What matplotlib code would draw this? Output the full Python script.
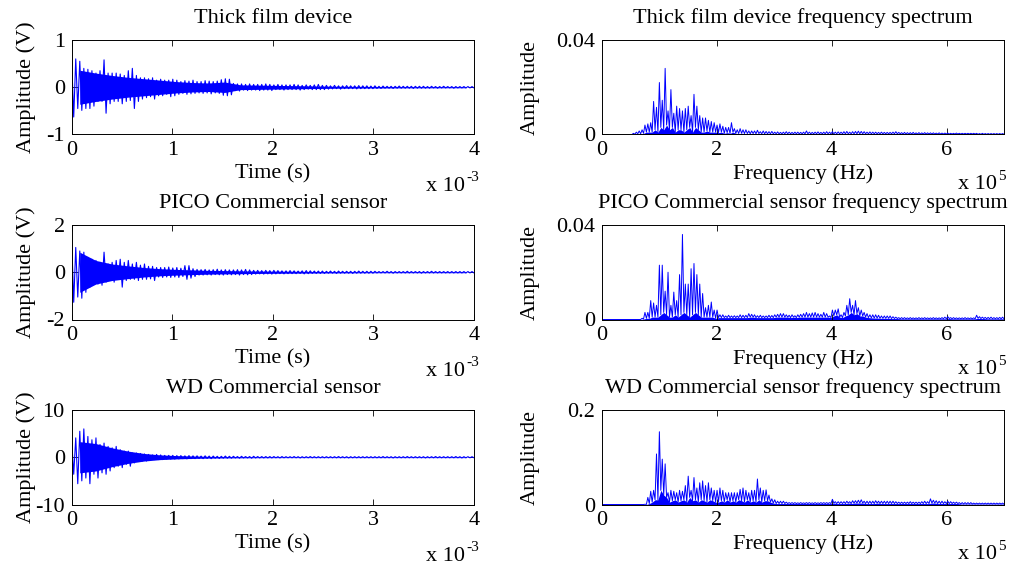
import numpy as np
import matplotlib
matplotlib.use("Agg")
import matplotlib.pyplot as plt

plt.rcParams['font.family'] = ['Liberation Serif', 'DejaVu Serif']

# ---------------- data ----------------
titles_time = ["Thick film device", "PICO Commercial sensor", "WD Commercial sensor"]
titles_freq = ["Thick film device frequency spectrum",
               "PICO Commercial sensor frequency spectrum",
               "WD Commercial sensor frequency spectrum"]

# time signals: positive / negative peak per 0.04 ms bin (0 .. 4 ms), volts
thick_up = [0.55, 0.60, 0.55, 0.40, 0.38, 0.35, 0.30, 0.35, 0.58, 0.30, 0.30, 0.30, 0.28, 0.25, 0.35, 0.40, 0.25, 0.20, 0.20, 0.18, 0.20, 0.15, 0.17, 0.15, 0.15,
            0.17, 0.15, 0.12, 0.14, 0.13, 0.15, 0.12, 0.12, 0.14, 0.13, 0.12, 0.13, 0.16, 0.18, 0.17,
            0.08, 0.07, 0.07, 0.06, 0.07, 0.06, 0.06, 0.06, 0.07, 0.06,
            0.05, 0.06, 0.05, 0.05, 0.05, 0.06, 0.05, 0.04, 0.05, 0.04, 0.05, 0.06, 0.04,
            0.04, 0.03, 0.04, 0.03, 0.03, 0.035, 0.03, 0.03, 0.035, 0.03, 0.03, 0.025,
            0.03, 0.02, 0.025, 0.02, 0.02, 0.02, 0.025, 0.02, 0.02, 0.02, 0.02, 0.02, 0.02, 0.015, 0.02, 0.015, 0.015, 0.02, 0.015, 0.015, 0.015, 0.015, 0.015, 0.015, 0.015]
thick_dn = [0.63, 0.45, 0.49, 0.45, 0.45, 0.40, 0.30, 0.30, 0.55, 0.35, 0.30, 0.30, 0.35, 0.30, 0.28, 0.45, 0.30, 0.25, 0.22, 0.20, 0.25, 0.18, 0.18, 0.15, 0.20,
            0.18, 0.15, 0.13, 0.15, 0.14, 0.13, 0.12, 0.13, 0.12, 0.14, 0.12, 0.13, 0.17, 0.18, 0.16,
            0.07, 0.08, 0.06, 0.07, 0.06, 0.06, 0.07, 0.06, 0.06, 0.07,
            0.05, 0.05, 0.06, 0.05, 0.05, 0.05, 0.06, 0.05, 0.04, 0.05, 0.05, 0.05, 0.05,
            0.04, 0.035, 0.03, 0.04, 0.03, 0.03, 0.03, 0.035, 0.03, 0.03, 0.03, 0.03,
            0.025, 0.025, 0.02, 0.02, 0.025, 0.02, 0.02, 0.02, 0.02, 0.025, 0.02, 0.02, 0.02, 0.02, 0.015, 0.02, 0.015, 0.015, 0.015, 0.02, 0.015, 0.015, 0.015, 0.015, 0.015]

pico_up = [1.34, 1.05, 0.90, 0.85, 0.63, 0.55, 0.50, 0.42, 0.85, 0.35, 0.42, 0.50, 0.55, 0.42, 0.50, 0.35, 0.42, 0.30, 0.35, 0.25, 0.25, 0.20, 0.20, 0.20, 0.22,
           0.18, 0.20, 0.17, 0.28, 0.28, 0.15, 0.12, 0.11, 0.12, 0.10, 0.11, 0.13, 0.10, 0.11, 0.10,
           0.10, 0.11, 0.10, 0.12, 0.10, 0.08, 0.08, 0.07, 0.08, 0.07,
           0.08, 0.07, 0.06, 0.06, 0.07, 0.06, 0.05, 0.06, 0.07, 0.06, 0.05, 0.05, 0.05,
           0.04, 0.05, 0.04, 0.05, 0.04, 0.04, 0.04, 0.04, 0.05, 0.04, 0.04, 0.04,
           0.04, 0.03, 0.03, 0.04, 0.03, 0.03, 0.03, 0.03, 0.04, 0.03, 0.03, 0.03, 0.03, 0.03, 0.04, 0.03, 0.03, 0.03, 0.03, 0.03, 0.03, 0.03, 0.03, 0.03, 0.03]
pico_dn = [1.27, 1.05, 1.10, 0.85, 0.63, 0.50, 0.50, 0.55, 0.42, 0.35, 0.42, 0.30, 0.63, 0.35, 0.30, 0.30, 0.35, 0.30, 0.30, 0.28, 0.35, 0.20, 0.22, 0.20, 0.22,
           0.20, 0.22, 0.18, 0.30, 0.25, 0.18, 0.12, 0.12, 0.11, 0.12, 0.10, 0.11, 0.12, 0.10, 0.11,
           0.10, 0.12, 0.10, 0.11, 0.10, 0.08, 0.07, 0.08, 0.07, 0.08,
           0.07, 0.06, 0.07, 0.06, 0.06, 0.06, 0.05, 0.07, 0.06, 0.05, 0.05, 0.05, 0.05,
           0.04, 0.04, 0.05, 0.04, 0.04, 0.04, 0.05, 0.04, 0.04, 0.04, 0.04, 0.04,
           0.03, 0.03, 0.03, 0.03, 0.04, 0.03, 0.03, 0.03, 0.03, 0.03, 0.03, 0.04, 0.03, 0.03, 0.03, 0.03, 0.03, 0.03, 0.03, 0.03, 0.03, 0.03, 0.03, 0.03, 0.03]

wd_up = [3.4, 4.1, 5.5, 6.0, 4.4, 3.7, 4.1, 2.7, 3.0, 2.3, 2.0, 2.3, 1.6, 1.3, 1.3, 0.9, 0.9, 0.8, 0.7, 0.6, 0.5, 0.6, 0.5, 0.4, 0.4,
         0.4, 0.35, 0.35, 0.3, 0.35, 0.3, 0.3, 0.25, 0.3, 0.25, 0.25, 0.2, 0.2, 0.25, 0.2,
         0.2, 0.15, 0.2, 0.15, 0.15, 0.2, 0.15, 0.15, 0.15, 0.15,
         0.15, 0.12, 0.15, 0.12, 0.12, 0.15, 0.12, 0.12, 0.12, 0.15, 0.12, 0.12, 0.12,
         0.12, 0.12, 0.12, 0.15, 0.12, 0.12, 0.12, 0.12, 0.12, 0.12, 0.12, 0.12,
         0.12, 0.12, 0.15, 0.12, 0.12, 0.12, 0.12, 0.12, 0.15, 0.12, 0.12, 0.12, 0.12, 0.12, 0.12, 0.15, 0.12, 0.12, 0.12, 0.12, 0.15, 0.12, 0.12, 0.12, 0.12]
wd_dn = [3.6, 5.6, 5.0, 4.4, 5.6, 3.6, 4.4, 3.3, 3.6, 2.9, 2.2, 1.9, 2.2, 1.5, 1.9, 1.2, 0.9, 0.8, 0.8, 0.6, 0.5, 0.5, 0.5, 0.4, 0.4,
         0.4, 0.35, 0.3, 0.35, 0.3, 0.3, 0.25, 0.3, 0.25, 0.3, 0.2, 0.25, 0.2, 0.2, 0.2,
         0.15, 0.2, 0.15, 0.15, 0.2, 0.15, 0.15, 0.15, 0.15, 0.15,
         0.12, 0.15, 0.12, 0.12, 0.12, 0.12, 0.15, 0.12, 0.12, 0.12, 0.12, 0.12, 0.12,
         0.12, 0.12, 0.12, 0.12, 0.12, 0.15, 0.12, 0.12, 0.12, 0.12, 0.12, 0.12,
         0.12, 0.12, 0.12, 0.12, 0.15, 0.12, 0.12, 0.12, 0.12, 0.12, 0.12, 0.12, 0.15, 0.12, 0.12, 0.12, 0.12, 0.12, 0.12, 0.12, 0.12, 0.15, 0.12, 0.12, 0.12]

# dense core of each time signal (half-width) per 0.16 ms bin, volts
thick_core = [0.36, 0.30, 0.25, 0.21, 0.18, 0.15, 0.12, 0.10, 0.09, 0.11, 0.05, 0.045, 0.04, 0.035, 0.03, 0.025,
              0.02, 0.018, 0.016, 0.015, 0.013, 0.012, 0.012, 0.011, 0.011]
pico_core = [0.85, 0.50, 0.35, 0.27, 0.20, 0.15, 0.12, 0.10, 0.08, 0.07, 0.06, 0.05, 0.045, 0.04, 0.035, 0.03,
             0.028, 0.025, 0.022, 0.02, 0.02, 0.02, 0.02, 0.02, 0.02]
wd_core = [3.3, 2.9, 2.0, 1.3, 0.8, 0.5, 0.35, 0.25, 0.18, 0.14, 0.12, 0.1, 0.09, 0.08, 0.08, 0.08,
           0.08, 0.08, 0.08, 0.08, 0.08, 0.08, 0.08, 0.08, 0.08]

# spectra: peak / trough per 0.05e5 Hz bin (0 .. 7e5 Hz), in units of 1e-3
thick_spec_pk = [0, 0, 0, 0, 0, 0, 0, 0, 0, 0, 0, 0.5, 1.0, 1.5, 2.0, 4.0, 4.5, 5.0, 14.0, 11.5,
                 22, 14.5, 28, 10, 19, 9, 12, 11, 10, 11, 12, 8, 17, 12, 8, 7, 7, 6, 5.5, 5,
                 4, 4.5, 3.5, 3, 3, 5, 2.5, 2, 2.5, 2, 2, 1.5, 1.5, 1.5, 1.8, 1.2, 1.5, 1.3, 1.2, 1.3,
                 1.0, 1.1, 0.9, 1.0, 1.2, 1.0, 0.9, 1.0, 1.0, 0.9, 1.0, 1.5, 1.0, 0.9, 1.0, 1.1, 0.9, 1.0, 1.2, 1.0,
                 1.2, 1.0, 1.1, 1.0, 1.2, 1.3, 1.0, 1.2, 1.3, 1.4, 1.3, 1.2, 1.0, 1.1, 1.0, 1.0, 0.9, 1.0, 0.9, 0.9,
                 0.9, 1.0, 1.2, 0.9, 0.8, 0.9, 0.8, 0.8, 0.9, 0.7, 0.8, 0.7, 0.8, 0.7, 0.7, 0.7, 0.6, 0.7, 0.6, 0.6,
                 0.6, 0.5, 0.5, 0.6, 0.5, 0.5, 0.5, 0.5, 0.5, 0.5, 0.5, 0.4, 0.5, 0.4, 0.4, 0.4, 0.4, 0.4, 0.4, 0.4]
thick_spec_tr = [0, 0, 0, 0, 0, 0, 0, 0, 0, 0, 0, 0.1, 0.3, 0.3, 0.5, 1, 1, 1, 2, 1,
                 3, 2, 4, 2, 3, 1, 2, 2, 1, 2, 3, 1, 3, 2, 1, 1, 1.5, 1, 1, 1,
                 0.8, 1, 0.5, 0.8, 0.5, 1, 0.5, 0.4, 0.5, 0.4, 0.4, 0.3, 0.4, 0.3, 0.4, 0.3, 0.3, 0.3, 0.3, 0.3,
                 0.3, 0.3, 0.3, 0.3, 0.3, 0.3, 0.3, 0.3, 0.3, 0.3, 0.3, 0.3, 0.3, 0.3, 0.3, 0.3, 0.3, 0.3, 0.3, 0.3,
                 0.3, 0.3, 0.3, 0.3, 0.3, 0.3, 0.3, 0.3, 0.3, 0.3, 0.3, 0.3, 0.3, 0.3, 0.3, 0.3, 0.3, 0.3, 0.3, 0.3,
                 0.3, 0.3, 0.3, 0.3, 0.2, 0.2, 0.2, 0.2, 0.2, 0.2, 0.2, 0.2, 0.2, 0.2, 0.2, 0.2, 0.2, 0.2, 0.2, 0.2,
                 0.2, 0.2, 0.2, 0.2, 0.2, 0.2, 0.2, 0.2, 0.2, 0.2, 0.1, 0.1, 0.1, 0.1, 0.1, 0.1, 0.1, 0.1, 0.1, 0.1]

pico_spec_pk = [0, 0, 0, 0, 0, 0, 0, 0, 0, 0, 0, 0, 0, 0, 0.5, 3, 3, 8, 7, 6,
                23, 23, 12, 20, 6, 11.6, 8, 19, 36, 15, 15, 21.5, 23.7, 19, 15, 11, 5, 6, 7.4, 4,
                4, 2, 2, 1.5, 1.8, 1.5, 1.6, 1.5, 2, 1.8, 1.8, 2.5, 2.2, 2, 1.6, 1.8, 1.5, 1.5, 1.8, 1.7,
                2, 2.2, 2.5, 2.5, 2, 1.8, 2, 1.6, 2, 2.2, 2.5, 3, 2.5, 2.8, 3, 2.5, 2.2, 3, 2.5, 1.5,
                4, 4, 4.5, 2, 3, 6, 8.8, 6, 8, 5, 4, 3, 2.5, 2, 2, 2, 1.8, 1.5, 1.5, 1.5,
                1.5, 1.2, 1.0, 0.8, 0.8, 0.8, 0.7, 0.8, 0.7, 0.7, 0.8, 0.7, 0.8, 0.7, 0.7, 0.8, 0.7, 0.7, 0.8, 1.0,
                1.2, 0.8, 0.8, 0.7, 0.7, 0.7, 0.8, 0.7, 0.7, 0.7, 1.8, 1.2, 1.0, 0.9, 0.9, 1.0, 0.8, 0.8, 0.9, 1.0]
pico_spec_tr = [0, 0, 0, 0, 0, 0, 0, 0, 0, 0, 0, 0, 0, 0, 0.2, 0.5, 0.5, 1, 1, 1,
                2, 3, 2, 1, 1, 2, 1, 2, 3, 2, 1, 2, 3, 2, 1, 1, 1, 1, 1, 0.5,
                0.8, 0.8, 0.8, 0.8, 0.8, 0.8, 0.8, 0.8, 0.8, 0.8, 0.8, 1, 1, 0.8, 0.8, 0.8, 0.8, 0.8, 0.8, 0.8,
                1, 1, 1, 1, 1, 0.8, 1, 0.8, 1, 1, 1, 1, 1, 1, 1, 1, 1, 1, 1, 0.8,
                1.5, 2, 1, 0.8, 1.5, 2, 3, 2, 2.5, 1.5, 1.5, 1, 0.8, 0.7, 0.6, 0.6, 0.5, 0.5, 0.5, 0.5,
                0.4, 0.4, 0.4, 0.3, 0.3, 0.3, 0.3, 0.3, 0.3, 0.3, 0.3, 0.3, 0.3, 0.3, 0.3, 0.3, 0.3, 0.3, 0.3, 0.3,
                0.4, 0.3, 0.3, 0.3, 0.3, 0.3, 0.3, 0.3, 0.3, 0.3, 0.5, 0.4, 0.4, 0.3, 0.3, 0.3, 0.3, 0.3, 0.3, 0.3]

wd_spec_pk = [0, 0, 0, 0, 0, 0, 0, 0, 0, 0, 0, 0, 0, 0, 0, 0.5, 15, 28, 30, 107,
              154, 96, 86, 25, 30, 28, 25, 30, 28, 40, 60, 30, 57, 35, 46, 50, 40, 46, 35, 30,
              30, 35, 30, 25, 25, 25, 25, 25, 32, 35, 30, 25, 30, 30, 54, 35, 30, 31, 20, 12,
              10, 7, 7, 7, 5, 4, 4, 4, 3.5, 4, 3.5, 4, 4, 3.5, 4, 3.5, 4, 4, 4, 4,
              11, 6, 6, 6, 6, 7, 6, 8, 8, 9, 10, 7, 7, 7, 7, 8, 7, 7, 7, 7,
              7, 7, 6, 5, 5, 5, 5, 6, 5, 5, 5, 6, 7, 6, 12, 9, 8, 7, 7, 6,
              7, 6, 5, 5, 4, 4, 4, 4, 4, 3, 3, 3, 3, 3, 3, 3, 3, 3, 3, 3]
wd_spec_tr = [0, 0, 0, 0, 0, 0, 0, 0, 0, 0, 0, 0, 0, 0, 0, 0.2, 2, 5, 10, 10,
              30, 20, 15, 5, 8, 10, 5, 8, 10, 5, 15, 8, 10, 5, 10, 8, 5, 10, 8, 5,
              5, 8, 5, 10, 5, 8, 5, 10, 8, 5, 10, 5, 8, 5, 10, 5, 8, 8, 5, 3,
              2, 2, 2, 2, 2, 2, 2, 2, 2, 2, 2, 2, 2, 2, 2, 2, 2, 2, 2, 2,
              3, 2, 2, 2, 2, 3, 2, 3, 3, 3, 3, 2, 2, 2, 2, 3, 2, 2, 2, 2,
              2, 2, 2, 2, 2, 2, 2, 2, 2, 2, 2, 2, 2, 2, 3, 3, 2, 2, 2, 2,
              2, 2, 2, 2, 1, 1, 1, 1, 1, 1, 1, 1, 1, 1, 1, 1, 1, 1, 1, 1]

time_ylims = [(-1, 1), (-2, 2), (-10, 10)]
time_yticks = [[-1, 0, 1], [-2, 0, 2], [-10, 0, 10]]
freq_ylims = [(0, 0.04), (0, 0.04), (0, 0.2)]
freq_yticks = [[0, 0.04], [0, 0.04], [0, 0.2]]
freq_yticklabels = [["0", "0.04"], ["0", "0.04"], ["0", "0.2"]]
time_xtick_labels = ["0", "1", "2", "3", "4"]
freq_xtick_labels = ["0", "2", "4", "6"]
time_exponent = "-3"
freq_exponent = "5"

time_up = [thick_up, pico_up, wd_up]
time_dn = [thick_dn, pico_dn, wd_dn]
time_core = [thick_core, pico_core, wd_core]
spec_pk = [thick_spec_pk, pico_spec_pk, wd_spec_pk]
spec_tr = [thick_spec_tr, pico_spec_tr, wd_spec_tr]

# ---------------- drawing ----------------
W, H = 1014, 565
fig = plt.figure(figsize=(W / 100, H / 100), dpi=100)

left_x0, right_x0, ax_w = 71.7, 601.7, 402.3
row_tops = [40, 225, 410]
ax_h = 94.5
FS = 16
BLUE = (0, 0, 1)
T_END, F_END = 4e-3, 7e5


def style(ax):
    ax.tick_params(direction='in', top=True, right=True, length=4, width=0.6,
                   labelsize=FS, pad=5)
    for s in ax.spines.values():
        s.set_linewidth(0.7)


def bin_centers(n, end):
    edges = np.linspace(0, end, n + 1)
    return 0.5 * (edges[:-1] + edges[1:])


def multiplier(ax, xr, yb, exp):
    ax.text(xr, yb, "x 10", transform=ax.transAxes, ha='right', va='baseline',
            fontsize=FS)
    ax.annotate(exp, xy=(xr, yb), xycoords='axes fraction', xytext=(1, 7),
                textcoords='offset points', ha='left', va='baseline', fontsize=11)


for r in range(3):
    top = row_tops[r]
    # ---- time signal ----
    ax = fig.add_axes([left_x0 / W, (H - top - ax_h) / H, ax_w / W, ax_h / H])
    core = np.asarray(time_core[r])
    tc = bin_centers(len(core), T_END)
    ax.fill_between(tc, -core, core, color=BLUE, lw=0)
    up = np.asarray(time_up[r]); dn = np.asarray(time_dn[r])
    y = np.empty(2 * len(up)); y[0::2] = up; y[1::2] = -dn
    t = np.linspace(0, T_END, len(y))
    ax.plot(t, y, color=BLUE, lw=0.8)
    ax.set_xlim(0, T_END)
    ax.set_ylim(*time_ylims[r])
    ax.set_yticks(time_yticks[r])
    ax.set_yticklabels([str(v) for v in time_yticks[r]])
    ax.set_xticks([0, 1e-3, 2e-3, 3e-3, 4e-3])
    ax.set_xticklabels(time_xtick_labels)
    style(ax)
    ax.set_title(titles_time[r], fontsize=FS, pad=12)
    ax.set_xlabel("Time (s)", fontsize=FS, labelpad=3)
    ax.set_ylabel("Amplitude (V)", fontsize=FS)
    ax.yaxis.set_label_coords(-0.089, 0.5)
    multiplier(ax, 0.978, -0.6, time_exponent)

    # ---- spectrum ----
    ax2 = fig.add_axes([right_x0 / W, (H - top - ax_h) / H, ax_w / W, ax_h / H])
    pk = np.asarray(spec_pk[r]) * 1e-3; tr = np.asarray(spec_tr[r]) * 1e-3
    s = np.empty(2 * len(pk)); s[0::2] = pk; s[1::2] = tr
    f = np.linspace(0, F_END, len(s))
    ax2.fill_between(f[1::2], 0, tr, color=BLUE, lw=0)
    ax2.plot(f, s, color=BLUE, lw=0.7)
    ax2.set_xlim(0, F_END)
    ax2.set_ylim(*freq_ylims[r])
    ax2.set_yticks(freq_yticks[r])
    ax2.set_yticklabels(freq_yticklabels[r])
    ax2.set_xticks([0, 2e5, 4e5, 6e5])
    ax2.set_xticklabels(freq_xtick_labels)
    style(ax2)
    ax2.set_title(titles_freq[r], fontsize=FS, pad=12)
    ax2.set_xlabel("Frequency (Hz)", fontsize=FS, labelpad=3)
    ax2.set_ylabel("Amplitude", fontsize=FS)
    ax2.yaxis.set_label_coords(-0.153, 0.5)
    multiplier(ax2, 0.983, -0.58, freq_exponent)

fig.savefig("out.png", dpi=100)
